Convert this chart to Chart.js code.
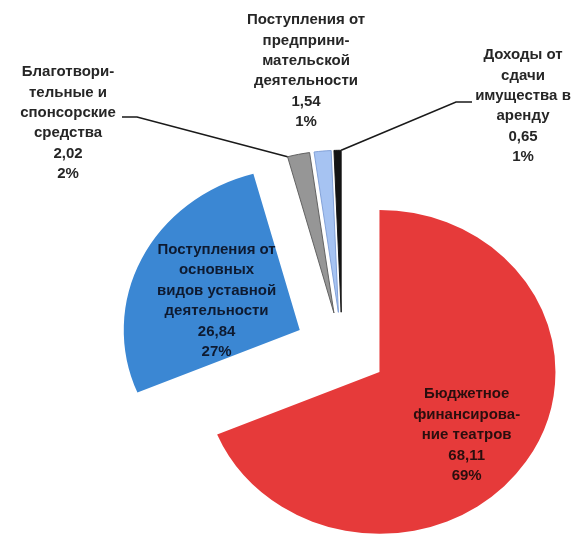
<!DOCTYPE html>
<html lang="ru">
<head>
<meta charset="utf-8">
<script src="https://cdn.jsdelivr.net/npm/chart.js@4.4.1/dist/chart.umd.min.js"></script>
<style>
  body { margin: 0; background: #fff; }
  canvas { display: block; }
</style>
</head>
<body>
<canvas id="theatreChart" width="573" height="544"></canvas>
<script>
// Structure of theatre income
const categories = [
    ['Бюджетное', 'финансирова-', 'ние театров'],
    ['Поступления от', 'основных', 'видов уставной', 'деятельности'],
    ['Благотвори-', 'тельные и', 'спонсорские', 'средства'],
    ['Поступления от', 'предприни-', 'мательской', 'деятельности'],
    ['Доходы от', 'сдачи', 'имущества в', 'аренду']
];
const amounts = [68.11, 26.84, 2.02, 1.54, 0.65];
const shareLabels = ['69%', '27%', '2%', '1%', '1%'];

const sliceColors = ['#e63a3a', '#3b87d3', '#969696', '#a6c3f2', '#141414'];
const sliceBorders = ['#e63a3a', '#3b87d3', '#5e5e5e', '#7f9fd6', '#141414'];
// how far each slice is pulled out of the centre, in pixels
const sliceOffsets = [45, 47, 40, 40, 40];

const PIE_RADIUS = 176;
// vertical squash of the pie to give it a tilted look
const TILT = 0.92;
const LINE_H = 20.4;

// where each label block goes: inside the slice, or outside with a leader line
const labelPlacement = [
    { inside: true, dist: 111, turn: 0.08, color: '#2a0e0e' },
    { inside: true, dist: 89, turn: -0.09, color: '#0e1a30' },
    { x: 68, y: 72, leader: [[122, 117], [137, 117]], edge: 'start' },
    { x: 306, y: 20 },
    { x: 523, y: 55, leader: [[472, 102], [456, 102]], edge: 'end' }
];

function formatAmount(v) {
    return v.toFixed(2).replace('.', ',');
}

function pieCenter(chart) {
    const area = chart.chartArea;
    return { x: (area.left + area.right) / 2, y: (area.top + area.bottom) / 2 };
}

// point on the tilted pie, measured from the centre
function piePoint(c, angle, dist) {
    return {
        x: c.x + Math.cos(angle) * dist,
        y: c.y + Math.sin(angle) * dist * TILT
    };
}

// pull every slice out along its middle angle (exploded pie)
const explodePlugin = {
    id: 'explode',
    beforeDatasetsDraw(chart) {
        const c = pieCenter(chart);
        chart.getDatasetMeta(0).data.forEach((arc, i) => {
            const mid = (arc.startAngle + arc.endAngle) / 2;
            arc.x = c.x + Math.cos(mid) * sliceOffsets[i];
            arc.y = c.y + Math.sin(mid) * sliceOffsets[i];
        });
    }
};

const tiltPlugin = {
    id: 'tilt',
    beforeDatasetsDraw(chart) {
        const c = pieCenter(chart);
        const ctx = chart.ctx;
        ctx.save();
        ctx.translate(c.x, c.y);
        ctx.scale(1, TILT);
        ctx.translate(-c.x, -c.y);
    },
    afterDatasetsDraw(chart) {
        chart.ctx.restore();
    }
};

const sliceLabelPlugin = {
    id: 'sliceLabels',
    afterDraw(chart) {
        const ctx = chart.ctx;
        const c = pieCenter(chart);
        const arcs = chart.getDatasetMeta(0).data;
        ctx.save();
        ctx.font = 'bold 15px "Liberation Sans", Arial, sans-serif';
        ctx.textAlign = 'center';
        ctx.textBaseline = 'middle';

        arcs.forEach((arc, i) => {
            const place = labelPlacement[i];
            const lines = categories[i].concat([formatAmount(amounts[i]), shareLabels[i]]);
            const mid = (arc.startAngle + arc.endAngle) / 2;
            const apex = piePoint(c, mid, sliceOffsets[i]);
            let cx, top;

            if (place.inside) {
                const p = piePoint(apex, mid + place.turn, place.dist);
                cx = p.x;
                top = p.y - (lines.length - 1) * LINE_H / 2;
                ctx.fillStyle = place.color;
            } else {
                cx = place.x;
                top = place.y;
                ctx.fillStyle = '#262626';
                if (place.leader) {
                    const angle = place.edge === 'start' ? arc.startAngle : arc.endAngle;
                    const end = piePoint(apex, angle, PIE_RADIUS);
                    ctx.beginPath();
                    ctx.moveTo(place.leader[0][0], place.leader[0][1]);
                    place.leader.slice(1).forEach(pt => ctx.lineTo(pt[0], pt[1]));
                    ctx.lineTo(end.x, end.y);
                    ctx.strokeStyle = '#1a1a1a';
                    ctx.lineWidth = 1.6;
                    ctx.stroke();
                }
            }

            lines.forEach((line, j) => {
                ctx.fillText(line, cx, top + j * LINE_H);
            });
        });
        ctx.restore();
    }
};

const ctx = document.getElementById('theatreChart').getContext('2d');
const incomeChart = new Chart(ctx, {
    type: 'pie',
    data: {
        labels: categories.map(c => c.join(' ')),
        datasets: [{
            data: amounts,
            backgroundColor: sliceColors,
            borderColor: sliceBorders,
            borderWidth: [0, 0, 1, 1, 1],
            hoverOffset: 0
        }]
    },
    options: {
        responsive: false,
        animation: false,
        events: [],
        radius: PIE_RADIUS,
        layout: {
            padding: { left: 111, right: 0, top: 154, bottom: 0 }
        },
        plugins: {
            legend: { display: false },
            tooltip: { enabled: false }
        }
    },
    plugins: [explodePlugin, tiltPlugin, sliceLabelPlugin]
});
</script>
</body>
</html>
